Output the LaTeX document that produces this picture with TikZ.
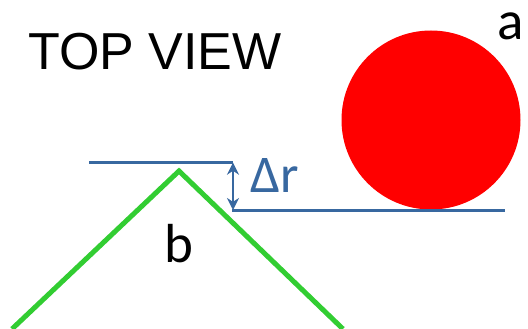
\documentclass[tikz,border=0pt]{standalone}
\usepackage{fontspec}
\setmainfont{Carlito}
\newfontfamily\headfont{Liberation Sans}
\usetikzlibrary{arrows.meta, positioning}
\definecolor{gapblue}{RGB}{56,104,160}
\definecolor{edgegreen}{RGB}{50,205,50}
\tikzset{
  label text/.style={inner sep=0pt, font=\fontsize{55}{55}\selectfont},
  gap line/.style={gapblue, line width=3pt},
  edge line/.style={edgegreen, line width=5pt}
}

\begin{document}
\begin{tikzpicture}[x=1pt, y=-1pt]
\useasboundingbox (0,0) rectangle (528,329);
% ball and its label
\node[circle, fill=red, inner sep=0pt, minimum size=179pt] (ball) at (431,120) {};
\node[label text] (lbla) at (511,26) {a};
\node[inner sep=0pt, font=\headfont\fontsize{52}{52}\selectfont] (title) at (155,51.5) {TOP VIEW};
% edge
\coordinate (edgeL) at (12,329);
\coordinate (apex) at (179,171);
\coordinate (edgeR) at (343,329);
\draw[edge line] (edgeL) -- (apex) -- (edgeR);
\node[label text] (lblb) at (179,243.5) {b};
% gap between edge and ball
\coordinate (topL) at (89,162.7);
\coordinate (topR) at (233,162.7);
\coordinate (botL) at (232,210);
\coordinate (botR) at (505,210);
\draw[gap line] (topL) -- (topR);
\draw[gap line] (botL) -- (botR);
\draw[gapblue, line width=2.5pt, {Stealth[length=12pt,width=12pt]}-{Stealth[length=12pt,width=12pt]}] (topR) -- (topR |- botL);
\node[label text, gapblue, font=\fontsize{53}{53}\selectfont] (dr) at (275,175) {Δr};
\end{tikzpicture}
\end{document}
